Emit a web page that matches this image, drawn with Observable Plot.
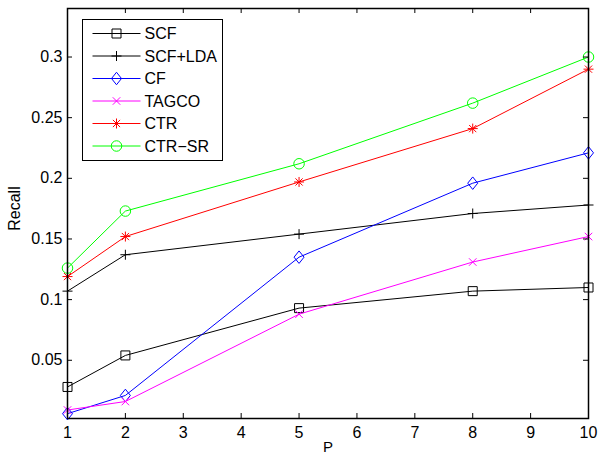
<!DOCTYPE html>
<html><head><meta charset="utf-8">
<script src="https://cdn.jsdelivr.net/npm/d3@7"></script>
<script src="https://cdn.jsdelivr.net/npm/@observablehq/plot@0.6"></script>
<style>body{margin:0;background:#fff} #chart{width:598px;height:457px}</style>
</head><body><div id="chart"></div>
<script>
// ---- data ----
const P = [1, 2, 5, 8, 10];
const seriesNames = ["SCF", "SCF+LDA", "CF", "TAGCO", "CTR", "CTR\u2212SR"];
const SCF     = [0.028, 0.054, 0.093, 0.107, 0.110];
const SCF_LDA = [0.107, 0.137, 0.154, 0.171, 0.178];
const CF      = [0.006, 0.021, 0.135, 0.196, 0.221];
const TAGCO   = [0.009, 0.016, 0.088, 0.131, 0.152];
const CTR     = [0.119, 0.152, 0.197, 0.241, 0.290];
const CTR_SR  = [0.126, 0.173, 0.212, 0.262, 0.300];
const seriesValues = [SCF, SCF_LDA, CF, TAGCO, CTR, CTR_SR];
const xTicks = [1, 2, 3, 4, 5, 6, 7, 8, 9, 10];
const yTicks = [0.05, 0.1, 0.15, 0.2, 0.25, 0.3];
const xLabel = "P";
const yLabel = "Recall";

// ---- styles ----
const colors = ["#000000", "#000000", "#0000ff", "#ff00ff", "#ff0000", "#00ff00"];
const W = 598, H = 457, mt = 8, mr = 10, mb = 39, ml = 67;
const innerW = W - ml - mr, innerH = H - mt - mb;
const tick = 5;
const R = 5;
const FONT = "'Liberation Sans', Arial, sans-serif";
const rad = s => Math.sqrt(s / Math.PI);
const symbols = [
  {draw(c, s) { const h = rad(s) * 0.9; c.moveTo(-h, -h); c.lineTo(h, -h); c.lineTo(h, h); c.lineTo(-h, h); c.closePath(); }},
  {draw(c, s) { const r = rad(s); c.moveTo(-r, 0); c.lineTo(r, 0); c.moveTo(0, -r); c.lineTo(0, r); }},
  {draw(c, s) { const r = rad(s); c.moveTo(0, -1.25 * r); c.lineTo(r, 0); c.lineTo(0, 1.25 * r); c.lineTo(-r, 0); c.closePath(); }},
  {draw(c, s) { const h = rad(s) * 0.75; c.moveTo(-h, -h); c.lineTo(h, h); c.moveTo(-h, h); c.lineTo(h, -h); }},
  {draw(c, s) { const r = rad(s), h = r * 0.72; c.moveTo(-r, 0); c.lineTo(r, 0); c.moveTo(0, -r); c.lineTo(0, r); c.moveTo(-h, -h); c.lineTo(h, h); c.moveTo(-h, h); c.lineTo(h, -h); }},
  {draw(c, s) { const r = rad(s) * 1.05; c.moveTo(r, 0); c.arc(0, 0, r, 0, 2 * Math.PI); }}
];

const marks = [];
seriesValues.forEach((vals, i) => {
  const rows = P.map((p, j) => ({P: p, v: vals[j]}));
  marks.push(Plot.line(rows, {x: "P", y: "v", stroke: colors[i], strokeWidth: 1}));
  marks.push(Plot.dot(rows, {x: "P", y: "v", stroke: colors[i], fill: "none", strokeWidth: 1, r: R, symbol: symbols[i]}));
});

const chart = Plot.plot({
  width: W, height: H,
  marginTop: mt, marginRight: mr, marginBottom: mb, marginLeft: ml,
  style: {fontFamily: FONT, fontSize: "16px", color: "#000", background: "#fff"},
  x: {domain: [1, 10]},
  y: {domain: [0.002, 0.34]},
  marks: [
    ...marks,
    Plot.axisX({ticks: xTicks, tickSize: 0, tickPadding: 8, tickFormat: d => String(d), label: null, fontSize: 16}),
    Plot.axisY({ticks: yTicks, tickSize: 0, tickPadding: 5, tickFormat: d => String(+d.toFixed(2)), label: null, fontSize: 16}),
    Plot.tickX(xTicks, {x: d => d, insetTop: innerH - tick, stroke: "#000"}),
    Plot.tickX(xTicks, {x: d => d, insetBottom: innerH - tick, stroke: "#000"}),
    Plot.tickY(yTicks, {y: d => d, insetRight: innerW - tick, stroke: "#000"}),
    Plot.tickY(yTicks, {y: d => d, insetLeft: innerW - tick, stroke: "#000"}),
    Plot.frame({stroke: "#000", strokeWidth: 1.5}),
    Plot.text([xLabel], {frameAnchor: "bottom", lineAnchor: "middle", textAnchor: "middle", dy: 29, fontSize: 15, fill: "#000"}),
    Plot.text([yLabel], {frameAnchor: "left", lineAnchor: "middle", textAnchor: "middle", dx: -53, dy: -5, rotate: -90, fontSize: 16, fill: "#000"})
  ]
});
document.getElementById("chart").appendChild(chart);

// ---- legend (inside the axes, top-left) ----
const svg = d3.select(chart);
const lg = svg.append("g").attr("transform", "translate(82.5,19.5)");
lg.append("rect").attr("width", 140).attr("height", 141).attr("fill", "#fff").attr("stroke", "#000").attr("stroke-width", 1);
seriesNames.forEach((name, i) => {
  const y = 14 + i * 22.5;
  const g = lg.append("g").attr("transform", `translate(0,${y})`);
  g.append("line").attr("x1", 10).attr("x2", 58).attr("y1", 0).attr("y2", 0).attr("stroke", colors[i]).attr("stroke-width", 1);
  g.append("path").attr("transform", "translate(34,0)").attr("d", d3.symbol(symbols[i], Math.PI * R * R)())
    .attr("fill", "none").attr("stroke", colors[i]).attr("stroke-width", 1);
  g.append("text").attr("x", 62).attr("y", 0).attr("dy", "0.36em").attr("font-size", 16)
    .attr("text-anchor", "start").attr("font-family", FONT).attr("fill", "#000").text(name);
});
</script>
</body></html>
